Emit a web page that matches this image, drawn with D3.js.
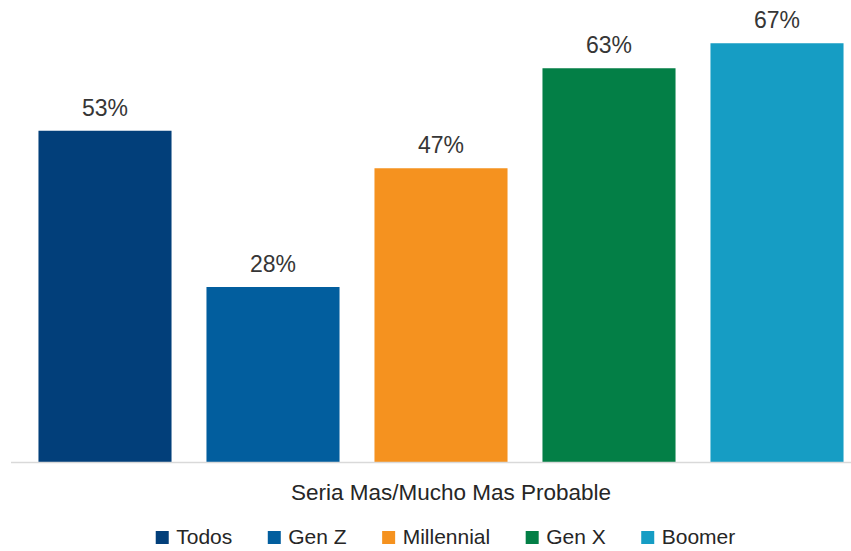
<!DOCTYPE html>
<html>
<head>
<meta charset="utf-8">
<script src="https://cdn.jsdelivr.net/npm/d3@7"></script>
<style>
  html, body { margin: 0; padding: 0; background: #ffffff; }
  svg { display: block; font-family: "Liberation Sans", Arial, sans-serif; }
</style>
</head>
<body>
<svg id="chart" width="851" height="551"></svg>
<script>
// Share answering "Seria Mas/Mucho Mas Probable", by generation
const categories = ["Todos", "Gen Z", "Millennial", "Gen X", "Boomer"];
const values = [53, 28, 47, 63, 67];
const colors = ["#023f7a", "#025e9e", "#f5921f", "#037f46", "#169dc4"];
const axisTitle = "Seria Mas/Mucho Mas Probable";

const svg = d3.select("#chart");
const W = 851, H = 551;
const baseY = 462;

const x = d3.scaleBand()
  .domain(categories)
  .range([21, 861])
  .paddingInner(0.208)
  .paddingOuter(0.104);

const y = d3.scaleLinear()
  .domain([0, 70])
  .range([baseY, baseY - 70 * 6.25]);

const color = d3.scaleOrdinal().domain(categories).range(colors);

const data = categories.map((c, i) => ({ cat: c, value: values[i] }));

// bars
svg.append("g")
  .selectAll("rect")
  .data(data)
  .join("rect")
  .attr("x", d => x(d.cat))
  .attr("y", d => y(d.value))
  .attr("width", x.bandwidth())
  .attr("height", d => y(0) - y(d.value))
  .attr("fill", d => color(d.cat));

// baseline
svg.append("line")
  .attr("x1", 11).attr("x2", W)
  .attr("y1", y(0) + 0.5).attr("y2", y(0) + 0.5)
  .attr("stroke", "#d9d9d9")
  .attr("stroke-width", 1.5);

// value labels
svg.append("g")
  .selectAll("text")
  .data(data)
  .join("text")
  .attr("x", d => x(d.cat) + x.bandwidth() / 2)
  .attr("y", d => y(d.value) - 15)
  .attr("text-anchor", "middle")
  .attr("font-size", 23)
  .attr("fill", "#363636")
  .text(d => d.value + "%");

// category axis title
svg.append("text")
  .attr("x", 451)
  .attr("y", 500)
  .attr("text-anchor", "middle")
  .attr("font-size", 22.5)
  .attr("fill", "#262626")
  .text(axisTitle);

// legend
const legend = svg.append("g");
const items = legend.selectAll("g")
  .data(categories)
  .join("g");
items.append("rect")
  .attr("width", 13).attr("height", 13)
  .attr("y", -13)
  .attr("fill", d => color(d));
items.append("text")
  .attr("x", 20.5)
  .attr("y", 0)
  .attr("font-size", 21)
  .attr("fill", "#262626")
  .text(d => d);

let cursor = 0;
const gap = 35.5;
items.each(function () {
  const g = d3.select(this);
  const tw = g.select("text").node().getComputedTextLength();
  g.attr("transform", `translate(${cursor},0)`);
  cursor += 20.5 + tw + gap;
});
const totalW = cursor - gap;
legend.attr("transform", `translate(${445.5 - totalW / 2},544)`);
</script>
</body>
</html>
